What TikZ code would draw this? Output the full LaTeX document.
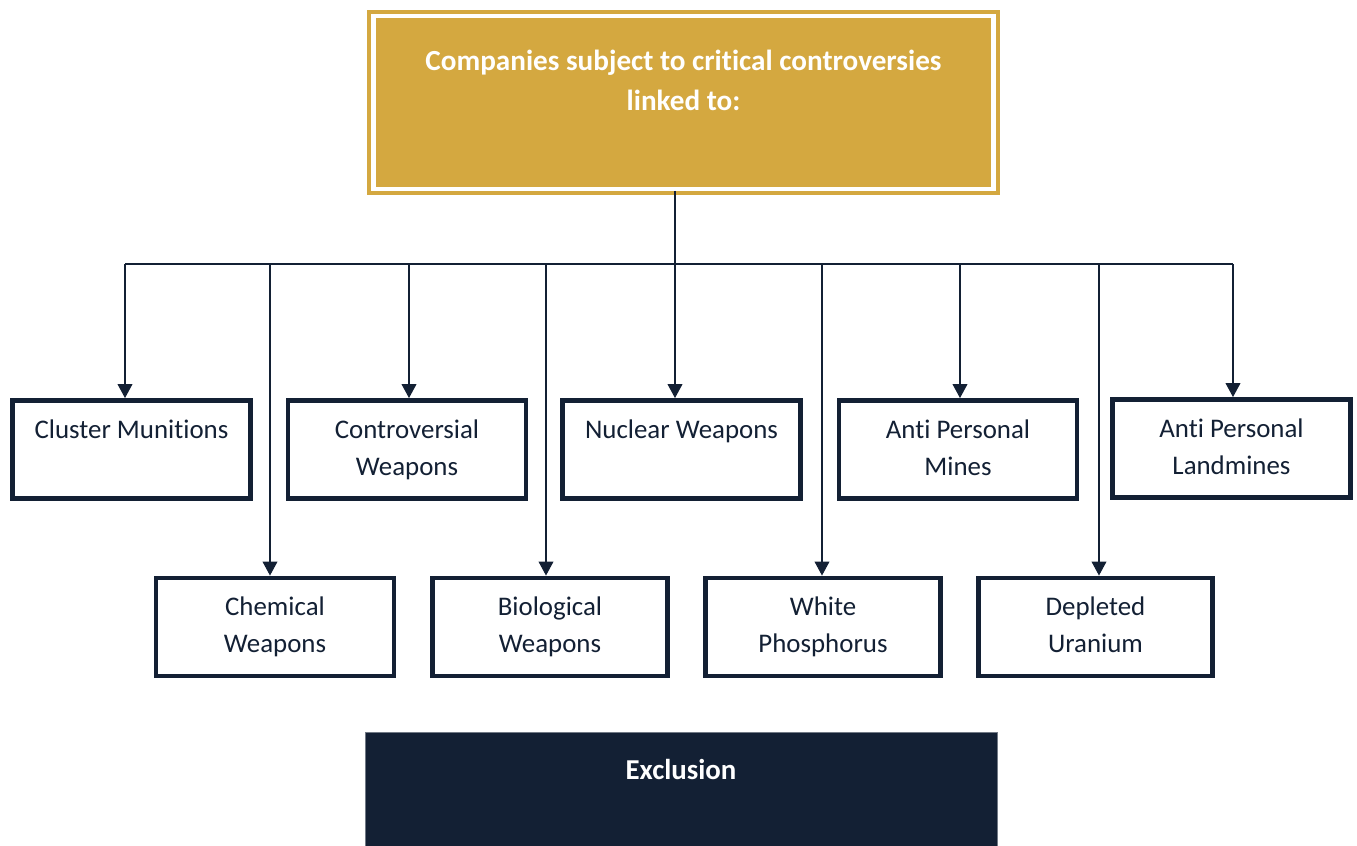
\documentclass[tikz,border=0pt]{standalone}
\usepackage{fontspec}
\setmainfont{Carlito}[Ligatures=NoCommon]
\usetikzlibrary{arrows.meta}
\definecolor{mygold}{RGB}{212,168,64}
\definecolor{mynavy}{RGB}{19,32,52}

\begin{document}
\begin{tikzpicture}[x=0.02cm,y=-0.02cm]

\tikzstyle{gold_block} = [draw=mygold, line width=2.3pt, double=white, double distance=2.5pt,
fill=mygold, text=white, font=\fontsize{16.6}{22.7}\selectfont\bfseries, inner sep=0,
minimum width=12.41cm, minimum height=3.45cm]
\tikzstyle{white_block} = [draw=mynavy, line width=2.8pt, fill=white, text=mynavy,
font=\fontsize{15.3}{21}\selectfont, inner sep=0, minimum width=4.76cm, minimum height=1.96cm]
\tikzstyle{navy_block} = [draw=mynavy!60, fill=mynavy, text=white, font=\fontsize{16.4}{21}\selectfont\bfseries,
inner sep=0, anchor=north, minimum width=12.64cm, text height=0.94cm, text depth=1.7cm]
\tikzstyle{arrow_line} = [draw=mynavy, line width=0.6pt, -{Triangle[width=8.5pt,length=8pt]}]
\tikzstyle{plain_line} = [draw=mynavy, line width=0.6pt]

\useasboundingbox (0,0) rectangle (1357,846);

\node [gold_block] (top) at (683.5,102.5) {\begin{tabular}{c} Companies subject to critical controversies\\ linked to:\\ \mbox{}\end{tabular}};

% first row
\node [white_block] (cluster) at (131.5,449.5) {\begin{tabular}{c} Cluster Munitions\\ \mbox{}\end{tabular}};
\node [white_block] (contro) at (407,449.5) {\begin{tabular}{c} Controversial\\ Weapons\end{tabular}};
\node [white_block] (nuclear) at (681.5,449.5) {\begin{tabular}{c} Nuclear Weapons\\ \mbox{}\end{tabular}};
\node [white_block] (mines) at (958,449.5) {\begin{tabular}{c} Anti Personal\\ Mines\end{tabular}};
\node [white_block] (landmines) at (1231.5,448.5) {\begin{tabular}{c} Anti Personal\\ Landmines\end{tabular}};

% second row
\node [white_block] (chem) at (275,627) {\begin{tabular}{c} Chemical\\ Weapons\end{tabular}};
\node [white_block, minimum width=4.7cm] (bio) at (550,627) {\begin{tabular}{c} Biological\\ Weapons\end{tabular}};
\node [white_block, minimum width=4.7cm] (phos) at (823,627) {\begin{tabular}{c} White\\ Phosphorus\end{tabular}};
\node [white_block, minimum width=4.68cm] (uranium) at (1095.5,627) {\begin{tabular}{c} Depleted\\ Uranium\end{tabular}};

\node [navy_block] (excl) at (681,732) {Exclusion};

% bus
\coordinate (b1) at (125,264);
\coordinate (b2) at (270,264);
\coordinate (b3) at (409,264);
\coordinate (b4) at (546,264);
\coordinate (b5) at (675,264);
\coordinate (b6) at (822,264);
\coordinate (b7) at (960,264);
\coordinate (b8) at (1099,264);
\coordinate (b9) at (1233,264);

\draw[plain_line] (b1) -- (b9);
\draw[arrow_line] (top.south -| b5) -- (nuclear.north -| b5);

\draw[arrow_line] (b1) -- (cluster.north -| b1);
\draw[arrow_line] (b3) -- (contro.north -| b3);
\draw[arrow_line] (b7) -- (mines.north -| b7);
\draw[arrow_line] (b9) -- (landmines.north -| b9);

\draw[arrow_line] (b2) -- (chem.north -| b2);
\draw[arrow_line] (b4) -- (bio.north -| b4);
\draw[arrow_line] (b6) -- (phos.north -| b6);
\draw[arrow_line] (b8) -- (uranium.north -| b8);

\end{tikzpicture}
\end{document}
